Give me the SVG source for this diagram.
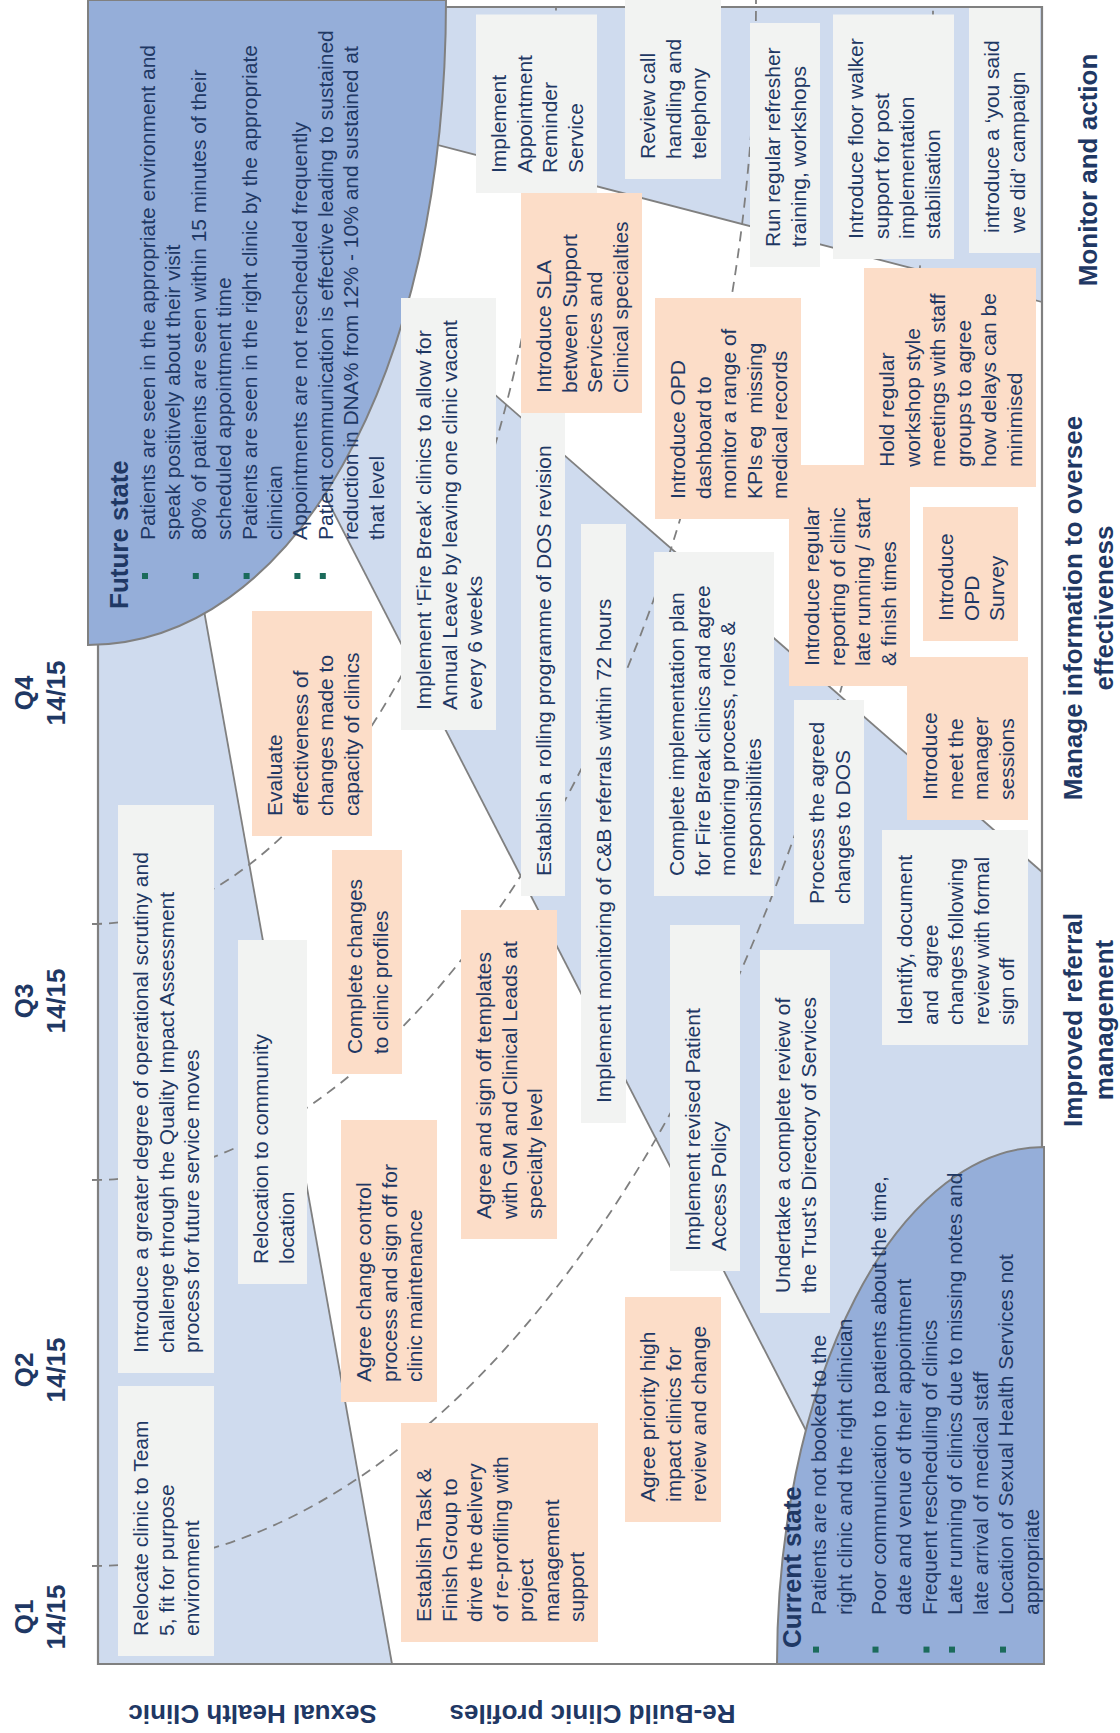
<svg xmlns="http://www.w3.org/2000/svg" width="1120" height="1733" viewBox="0 0 1120 1733">
<style>
.band{fill:#CFDBEE}
.ln{stroke:#808080;stroke-width:1.8;fill:none}
.dash{stroke:#7F7F7F;stroke-width:1.8;fill:none;stroke-dasharray:10 7}
.st{fill:#95AED9;stroke:#808080;stroke-width:2}
.frame{stroke:#808080;stroke-width:2.2;fill:none}
.g{fill:#F2F3F2}
.p{fill:#FCDDC8}
.t{font-family:"Liberation Sans",Arial,sans-serif;font-size:21px;fill:#1F3864}
.b{font-family:"Liberation Sans",Arial,sans-serif;font-size:26px;font-weight:bold;fill:#1F3864}
.c{text-anchor:middle}
.bul{fill:#1B6B5B}
</style>
<rect x="0" y="0" width="1120" height="1733" fill="#FFFFFF"/>
<g id="bands">
<polygon class="band" points="98,560 98,1664 392,1664 195,560"/>
<polygon class="band" points="93,44 1042,872 1042,1600 900,1600 816,1450"/>
<polygon class="band" points="380,7 1042,7 1042,302 380,130"/>
</g>
<g id="connectors">
<line class="ln" x1="392" y1="1664" x2="195" y2="560"/>
<line class="ln" x1="816" y1="1450" x2="300" y2="447"/>
<line class="ln" x1="1042" y1="872" x2="380" y2="294.5"/>
<line class="ln" x1="380" y1="130" x2="1042" y2="302"/>
<path class="dash" d="M92,1566 C538,1566 933,833 933,7"/>
<path class="dash" d="M92,1180 C437,1180 756,617 756,0"/>
<path class="dash" d="M92,924 C338,924 556,493 556,7"/>
<path class="frame" d="M446,7 H1042 V1664 H98 V645"/>
</g>
<g id="future-state">
<path class="st" d="M88,0 H446 C446,380 290,645 88,645 Z"/>
<text class="b" transform="translate(128,609) rotate(-90)">Future state</text>
<rect class="bul" x="142" y="573" width="6" height="6"/>
<rect class="bul" x="192.8" y="573" width="6" height="6"/>
<rect class="bul" x="243.6" y="573" width="6" height="6"/>
<rect class="bul" x="294.4" y="573" width="6" height="6"/>
<rect class="bul" x="319.8" y="573" width="6" height="6"/>
<text class="t" transform="translate(155,540) rotate(-90)">
<tspan x="0" y="0">Patients are seen in the appropriate environment and</tspan>
<tspan x="0" y="25.4">speak positively about their visit</tspan>
<tspan x="0" y="50.8">80% of patients are seen within 15 minutes of their</tspan>
<tspan x="0" y="76.2">scheduled appointment time</tspan>
<tspan x="0" y="101.6">Patients are seen in the right clinic by the appropriate</tspan>
<tspan x="0" y="127">clinician</tspan>
<tspan x="0" y="152.4">Appointments are not rescheduled frequently</tspan>
<tspan x="0" y="177.8">Patient communication is effective leading to sustained</tspan>
<tspan x="0" y="203.2">reduction in DNA% from 12% - 10% and sustained at</tspan>
<tspan x="0" y="228.6">that level</tspan>
</text>
</g>
<g id="current-state">
<path class="st" d="M777,1664 A267,517 0 0 1 1044,1147 V1664 Z"/>
<text class="b" transform="translate(801,1648) rotate(-90)">Current state</text>
<rect class="bul" x="813" y="1646.6" width="6" height="6"/>
<rect class="bul" x="872.5" y="1646.6" width="6" height="6"/>
<rect class="bul" x="923.5" y="1646.6" width="6" height="6"/>
<rect class="bul" x="949" y="1646.6" width="6" height="6"/>
<rect class="bul" x="1000" y="1646.6" width="6" height="6"/>
<text class="t" transform="translate(826,1615) rotate(-90)">
<tspan x="0" y="0">Patients are not booked to the</tspan>
<tspan x="0" y="25.5">right clinic and the right clinician</tspan>
<tspan x="0" y="59.5">Poor communication to patients about the time,</tspan>
<tspan x="0" y="85">date and venue of their appointment</tspan>
<tspan x="0" y="110.5">Frequent rescheduling of clinics</tspan>
<tspan x="0" y="136">Late running of clinics due to missing notes and</tspan>
<tspan x="0" y="161.5">late arrival of medical staff</tspan>
<tspan x="0" y="187">Location of Sexual Health Services not</tspan>
<tspan x="0" y="212.5">appropriate</tspan>
</text>
</g>
<g id="n1"><rect class="g" x="476" y="14.5" width="121" height="178.5"/><text class="t" transform="translate(506,173) rotate(-90)"><tspan x="0" y="0">Implement</tspan><tspan x="0" y="25.5">Appointment</tspan><tspan x="0" y="51">Reminder</tspan><tspan x="0" y="76.5">Service</tspan></text></g>
<g id="n2"><rect class="g" x="625" y="0" width="96" height="179"/><text class="t" transform="translate(655,159) rotate(-90)"><tspan x="0" y="0">Review call</tspan><tspan x="0" y="25.5">handling and</tspan><tspan x="0" y="51">telephony</tspan></text></g>
<g id="n3"><rect class="g" x="750" y="23" width="70" height="244"/><text class="t" transform="translate(780,247) rotate(-90)"><tspan x="0" y="0">Run regular refresher</tspan><tspan x="0" y="25.5">training, workshops</tspan></text></g>
<g id="n4"><rect class="g" x="833" y="14.5" width="121" height="244.5"/><text class="t" transform="translate(863,239) rotate(-90)"><tspan x="0" y="0">Introduce floor walker</tspan><tspan x="0" y="25.5">support for post</tspan><tspan x="0" y="51">implementation</tspan><tspan x="0" y="76.5">stabilisation</tspan></text></g>
<g id="n5"><rect class="g" x="969" y="8" width="71" height="245"/><text class="t" transform="translate(999,233) rotate(-90)"><tspan x="0" y="0">introduce a ‘you said</tspan><tspan x="0" y="25.5">we did’ campaign</tspan></text></g>
<g id="n6"><rect class="p" x="521" y="193" width="121" height="220"/><text class="t" transform="translate(551,393) rotate(-90)"><tspan x="0" y="0">Introduce SLA</tspan><tspan x="0" y="25.5">between Support</tspan><tspan x="0" y="51">Services and</tspan><tspan x="0" y="76.5">Clinical specialties</tspan></text></g>
<g id="n7"><rect class="p" x="655" y="298" width="146" height="221"/><text class="t" transform="translate(685,499) rotate(-90)"><tspan x="0" y="0">Introduce OPD</tspan><tspan x="0" y="25.5">dashboard to</tspan><tspan x="0" y="51">monitor a range of</tspan><tspan x="0" y="76.5" xml:space="preserve">KPIs eg  missing</tspan><tspan x="0" y="102">medical records</tspan></text></g>
<g id="n8"><rect class="p" x="864" y="268" width="172" height="219"/><text class="t" transform="translate(894,467) rotate(-90)"><tspan x="0" y="0">Hold regular</tspan><tspan x="0" y="25.5">workshop style</tspan><tspan x="0" y="51">meetings with staff</tspan><tspan x="0" y="76.5">groups to agree</tspan><tspan x="0" y="102">how delays can be</tspan><tspan x="0" y="127.5">minimised</tspan></text></g>
<g id="n9"><rect class="p" x="789" y="465" width="121" height="221"/><text class="t" transform="translate(819,666) rotate(-90)"><tspan x="0" y="0">Introduce regular</tspan><tspan x="0" y="25.5">reporting of clinic</tspan><tspan x="0" y="51">late running / start</tspan><tspan x="0" y="76.5">&amp; finish times</tspan></text></g>
<g id="n10"><rect class="p" x="923" y="507" width="95" height="134"/><text class="t" transform="translate(953,621) rotate(-90)"><tspan x="0" y="0">Introduce</tspan><tspan x="0" y="25.5">OPD</tspan><tspan x="0" y="51">Survey</tspan></text></g>
<g id="n11"><rect class="p" x="907" y="657" width="121" height="163"/><text class="t" transform="translate(937,800) rotate(-90)"><tspan x="0" y="0">Introduce</tspan><tspan x="0" y="25.5">meet the</tspan><tspan x="0" y="51">manager</tspan><tspan x="0" y="76.5">sessions</tspan></text></g>
<g id="n12"><rect class="g" x="882" y="830" width="146" height="215"/><text class="t" transform="translate(912,1025) rotate(-90)"><tspan x="0" y="0">Identify, document</tspan><tspan x="0" y="25.5" xml:space="preserve">and  agree</tspan><tspan x="0" y="51">changes following</tspan><tspan x="0" y="76.5">review with formal</tspan><tspan x="0" y="102">sign off</tspan></text></g>
<g id="n13"><rect class="g" x="794" y="700" width="70" height="224"/><text class="t" transform="translate(824,904) rotate(-90)"><tspan x="0" y="0">Process the agreed</tspan><tspan x="0" y="25.5">changes to DOS</tspan></text></g>
<g id="n14"><rect class="g" x="654" y="552" width="120" height="344"/><text class="t" transform="translate(684,876) rotate(-90)"><tspan x="0" y="0">Complete implementation plan</tspan><tspan x="0" y="25.5">for Fire Break clinics and agree</tspan><tspan x="0" y="51">monitoring process, roles &amp;</tspan><tspan x="0" y="76.5">responsibilities</tspan></text></g>
<g id="n15"><rect class="g" x="581" y="524" width="45" height="599"/><text class="t" transform="translate(611,1103) rotate(-90)">Implement monitoring of C&amp;B referrals within 72 hours</text></g>
<g id="n16"><rect class="g" x="670" y="925" width="70" height="346"/><text class="t" transform="translate(700,1251) rotate(-90)"><tspan x="0" y="0">Implement revised Patient</tspan><tspan x="0" y="25.5">Access Policy</tspan></text></g>
<g id="n17"><rect class="g" x="760" y="950" width="70" height="363"/><text class="t" transform="translate(790,1293) rotate(-90)"><tspan x="0" y="0">Undertake a complete review of</tspan><tspan x="0" y="25.5">the Trust’s Directory of Services</tspan></text></g>
<g id="n18"><rect class="g" x="521" y="413" width="44" height="483"/><text class="t" transform="translate(551,876) rotate(-90)">Establish a rolling programme of DOS revision</text></g>
<g id="n19"><rect class="g" x="401" y="298" width="95" height="432"/><text class="t" transform="translate(431,710) rotate(-90)"><tspan x="0" y="0">Implement ‘Fire Break’ clinics to allow for</tspan><tspan x="0" y="25.5">Annual Leave by leaving one clinic vacant</tspan><tspan x="0" y="51">every 6 weeks</tspan></text></g>
<g id="n20"><rect class="p" x="252" y="611" width="120" height="225"/><text class="t" transform="translate(282,816) rotate(-90)"><tspan x="0" y="0">Evaluate</tspan><tspan x="0" y="25.5">effectiveness of</tspan><tspan x="0" y="51">changes made to</tspan><tspan x="0" y="76.5">capacity of clinics</tspan></text></g>
<g id="n21"><rect class="p" x="332" y="850" width="70" height="224"/><text class="t" transform="translate(362,1054) rotate(-90)"><tspan x="0" y="0">Complete changes</tspan><tspan x="0" y="25.5">to clinic profiles</tspan></text></g>
<g id="n22"><rect class="p" x="461" y="910" width="96" height="329"/><text class="t" transform="translate(491,1219) rotate(-90)"><tspan x="0" y="0">Agree and sign off templates</tspan><tspan x="0" y="25.5">with GM and Clinical Leads at</tspan><tspan x="0" y="51">specialty level</tspan></text></g>
<g id="n23"><rect class="g" x="118" y="805" width="96" height="568"/><text class="t" transform="translate(148,1353) rotate(-90)"><tspan x="0" y="0">Introduce a greater degree of operational scrutiny and</tspan><tspan x="0" y="25.5">challenge through the Quality Impact Assessment</tspan><tspan x="0" y="51">process for future service moves</tspan></text></g>
<g id="n24"><rect class="g" x="238" y="940" width="69" height="344"/><text class="t" transform="translate(268,1264) rotate(-90)"><tspan x="0" y="0">Relocation to community</tspan><tspan x="0" y="25.5">location</tspan></text></g>
<g id="n25"><rect class="p" x="341" y="1120" width="96" height="282"/><text class="t" transform="translate(371,1382) rotate(-90)"><tspan x="0" y="0">Agree change control</tspan><tspan x="0" y="25.5">process and sign off for</tspan><tspan x="0" y="51">clinic maintenance</tspan></text></g>
<g id="n26"><rect class="g" x="118" y="1386" width="96" height="270"/><text class="t" transform="translate(148,1636) rotate(-90)"><tspan x="0" y="0">Relocate clinic to Team</tspan><tspan x="0" y="25.5">5, fit for purpose</tspan><tspan x="0" y="51">environment</tspan></text></g>
<g id="n27"><rect class="p" x="401" y="1423" width="197" height="219"/><text class="t" transform="translate(431,1622) rotate(-90)"><tspan x="0" y="0">Establish Task &amp;</tspan><tspan x="0" y="25.5">Finish Group to</tspan><tspan x="0" y="51">drive the delivery</tspan><tspan x="0" y="76.5">of re-profiling with</tspan><tspan x="0" y="102">project</tspan><tspan x="0" y="127.5">management</tspan><tspan x="0" y="153">support</tspan></text></g>
<g id="n28"><rect class="p" x="625" y="1297" width="96" height="225"/><text class="t" transform="translate(655,1502) rotate(-90)"><tspan x="0" y="0">Agree priority high</tspan><tspan x="0" y="25.5">impact clinics for</tspan><tspan x="0" y="51">review and change</tspan></text></g>
<g id="labels">
<text class="b c" transform="translate(33,693) rotate(-90)"><tspan x="0" y="0">Q4</tspan><tspan x="0" y="32">14/15</tspan></text>
<text class="b c" transform="translate(33,1001) rotate(-90)"><tspan x="0" y="0">Q3</tspan><tspan x="0" y="32">14/15</tspan></text>
<text class="b c" transform="translate(33,1370) rotate(-90)"><tspan x="0" y="0">Q2</tspan><tspan x="0" y="32">14/15</tspan></text>
<text class="b c" transform="translate(33,1617) rotate(-90)"><tspan x="0" y="0">Q1</tspan><tspan x="0" y="32">14/15</tspan></text>
<text class="b c" transform="translate(252.6,1705) rotate(180)">Sexual Health Clinic</text>
<text class="b c" transform="translate(592.5,1705) rotate(180)">Re-Build Clinic profiles</text>
<text class="b c" transform="translate(1097,170) rotate(-90)">Monitor and action</text>
<text class="b c" transform="translate(1082,608) rotate(-90)"><tspan x="0" y="0">Manage information to oversee</tspan><tspan x="0" y="31">effectiveness</tspan></text>
<text class="b c" transform="translate(1082,1020) rotate(-90)"><tspan x="0" y="0">Improved referral</tspan><tspan x="0" y="31">management</tspan></text>
</g>
</svg>
